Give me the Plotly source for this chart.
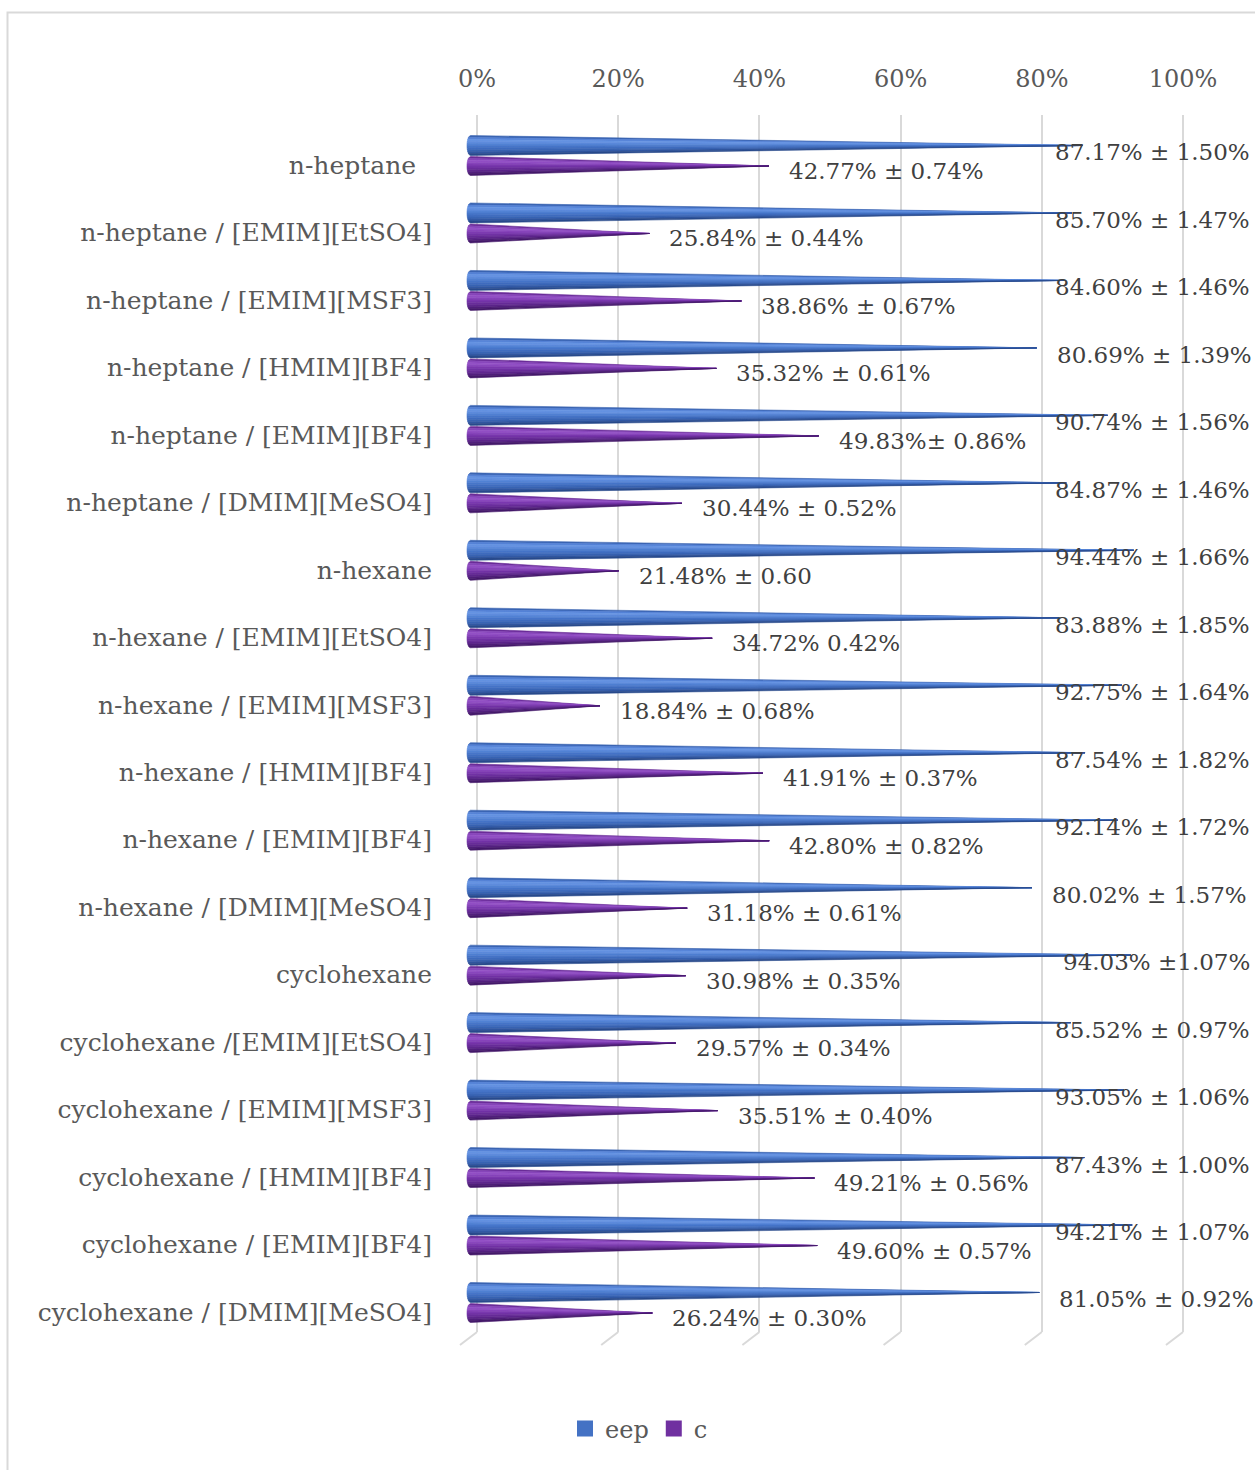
import numpy as np
import plotly.graph_objects as go

# ---- data -------------------------------------------------------------
categories = [
    "n-heptane\u00a0\u00a0",
    "n-heptane / [EMIM][EtSO4]",
    "n-heptane / [EMIM][MSF3]",
    "n-heptane / [HMIM][BF4]",
    "n-heptane / [EMIM][BF4]",
    "n-heptane / [DMIM][MeSO4]",
    "n-hexane",
    "n-hexane / [EMIM][EtSO4]",
    "n-hexane / [EMIM][MSF3]",
    "n-hexane / [HMIM][BF4]",
    "n-hexane / [EMIM][BF4]",
    "n-hexane / [DMIM][MeSO4]",
    "cyclohexane",
    "cyclohexane /[EMIM][EtSO4]",
    "cyclohexane / [EMIM][MSF3]",
    "cyclohexane / [HMIM][BF4]",
    "cyclohexane / [EMIM][BF4]",
    "cyclohexane / [DMIM][MeSO4]",
]

eep_values = [87.17, 85.70, 84.60, 80.69, 90.74, 84.87, 94.44, 83.88, 92.75,
              87.54, 92.14, 80.02, 94.03, 85.52, 93.05, 87.43, 94.21, 81.05]
c_values = [42.77, 25.84, 38.86, 35.32, 49.83, 30.44, 21.48, 34.72, 18.84,
            41.91, 42.80, 31.18, 30.98, 29.57, 35.51, 49.21, 49.60, 26.24]

eep_labels = ["87.17% ± 1.50%", "85.70% ± 1.47%", "84.60% ± 1.46%", "80.69% ± 1.39%",
              "90.74% ± 1.56%", "84.87% ± 1.46%", "94.44% ± 1.66%", "83.88% ± 1.85%",
              "92.75% ± 1.64%", "87.54% ± 1.82%", "92.14% ± 1.72%", "80.02% ± 1.57%",
              "94.03% ±1.07%", "85.52% ± 0.97%", "93.05% ± 1.06%", "87.43% ± 1.00%",
              "94.21% ± 1.07%", "81.05% ± 0.92%"]
c_labels = ["42.77% ± 0.74%", "25.84% ± 0.44%", "38.86% ± 0.67%", "35.32% ± 0.61%",
            "49.83%± 0.86%", "30.44% ± 0.52%", "21.48% ± 0.60", "34.72% 0.42%",
            "18.84% ± 0.68%", "41.91% ± 0.37%", "42.80% ± 0.82%", "31.18% ± 0.61%",
            "30.98% ± 0.35%", "29.57% ± 0.34%", "35.51% ± 0.40%", "49.21% ± 0.56%",
            "49.60% ± 0.57%", "26.24% ± 0.30%"]

tick_values = [0, 20, 40, 60, 80, 100]
tick_labels = ["0%", "20%", "40%", "60%", "80%", "100%"]

series_names = ["eep", "c"]

# ---- geometry (pixels) ------------------------------------------------
W, H = 1255, 1470
PX_PER_PCT = 7.06          # horizontal scale
CONE_ORIGIN = 467          # where the cone bases sit (front plane)
GRID_ORIGIN = 477          # where 0% sits on the back wall
PLOT_LEFT = 440
PLOT_TOP, PLOT_BOTTOM = 115, 1332
ROW_FIRST, ROW_STEP = 165, 67.47
LABEL_GAP = 18
LABEL_W = 194
RIGHT_LIMIT = 1252

FONT = "DejaVu Serif"
FS = 24          # axis ticks, legend
FS_CAT = 25      # category names
FS_VAL = 23      # value labels
GREY_TXT = "#595959"
DARK_TXT = "#404040"
GRID = "#d9d9d9"


def to_val(px, origin):
    return (px - origin) / PX_PER_PCT


x_range = [to_val(PLOT_LEFT, CONE_ORIGIN), to_val(W, CONE_ORIGIN)]
x2_range = [to_val(PLOT_LEFT, GRID_ORIGIN), to_val(W, GRID_ORIGIN)]
y_range = [(PLOT_BOTTOM - ROW_FIRST) / ROW_STEP, (PLOT_TOP - ROW_FIRST) / ROW_STEP]

blue_bands = ['#3A64B2', '#5482D6', '#6593E2', '#5E8CDD', '#5182D4',
              '#4776CA', '#406DC0', '#3965B5', '#3259A5', '#284A8C']
purple_bands = ['#6A2C98', '#8745BA', '#9350C6', '#8946BD', '#7D3BB1',
                '#7333A7', '#692D9B', '#5F278E', '#53207E', '#44196A']


def cone_traces(values, offset_px, radius_px, colors):
    """Shaded horizontal cones: a stack of thin bands converging on the tip."""
    r = radius_px / ROW_STEP
    rx = 3.5 / PX_PER_PCT
    n = len(colors)
    edges = np.linspace(-1, 1, n + 1)
    out = []
    for k in range(n):
        xs, ys = [], []
        for i, v in enumerate(values):
            c = i + offset_px / ROW_STEP
            ts = np.linspace(edges[k], edges[k + 1], 6)
            px = [rx * (1 - np.sqrt(max(0.0, 1 - t * t))) for t in ts]
            py = [c + t * r for t in ts]
            xs += px + [v, px[0], None]
            ys += py + [c, py[0], None]
        out.append(go.Scatter(
            x=xs, y=ys, mode="lines", fill="toself",
            fillcolor=colors[k], line=dict(width=0.6, color=colors[k]),
            hoverinfo="skip", showlegend=False, xaxis="x", yaxis="y"))
    return out


fig = go.Figure()

BLUE_OFF, BLUE_R = -19.5, 10
PURPLE_OFF, PURPLE_R = 1.0, 9.5

for tr in cone_traces(eep_values, BLUE_OFF, BLUE_R, blue_bands):
    fig.add_trace(tr)
for tr in cone_traces(c_values, PURPLE_OFF, PURPLE_R, purple_bands):
    fig.add_trace(tr)

# legend entries
fig.add_trace(go.Scatter(x=[None], y=[None], mode="markers", name=series_names[0],
                         marker=dict(symbol="square", size=16, color="#4472C4")))
fig.add_trace(go.Scatter(x=[None], y=[None], mode="markers", name=series_names[1],
                         marker=dict(symbol="square", size=16, color="#7030A0")))

# value labels
annotations = []
for values, labels, off, ys in ((eep_values, eep_labels, BLUE_OFF, -7),
                                (c_values, c_labels, PURPLE_OFF, -5)):
    for i, (v, lab) in enumerate(zip(values, labels)):
        yc = i + off / ROW_STEP
        left_px = CONE_ORIGIN + v * PX_PER_PCT + LABEL_GAP
        font = dict(family=FONT, size=FS_VAL, color=DARK_TXT)
        if left_px + LABEL_W > RIGHT_LIMIT:
            annotations.append(dict(x=RIGHT_LIMIT / W, xref="paper", xanchor="right",
                                    y=yc, yref="y", yshift=ys, text=lab,
                                    showarrow=False, font=font))
        else:
            annotations.append(dict(x=v, xref="x", xanchor="left", xshift=LABEL_GAP,
                                    y=yc, yref="y", yshift=ys, text=lab,
                                    showarrow=False, font=font))

# floor lines continuing the gridlines
shapes = []
y_bot = 1 - PLOT_BOTTOM / H
y_floor = 1 - (PLOT_BOTTOM + 13) / H
for tv in tick_values:
    shapes.append(dict(type="line", xref="x2", yref="paper",
                       x0=tv, y0=y_bot, x1=tv - 17 / PX_PER_PCT, y1=y_floor,
                       line=dict(color=GRID, width=2), layer="below"))

# chart border
shapes.append(dict(type="rect", xref="paper", yref="paper",
                   x0=7.5 / W, y0=1 - 12.5 / H, x1=1.02, y1=-0.02,
                   line=dict(color=GRID, width=2)))

fig.update_layout(
    width=W, height=H,
    margin=dict(l=0, r=0, t=0, b=0),
    paper_bgcolor="white", plot_bgcolor="white",
    font=dict(family=FONT, size=FS, color=GREY_TXT),
    xaxis=dict(domain=[PLOT_LEFT / W, 1], range=x_range, visible=False, fixedrange=True),
    xaxis2=dict(overlaying="x", side="top", anchor="y", range=x2_range,
                tickvals=tick_values, ticktext=tick_labels, showgrid=True,
                gridcolor=GRID, gridwidth=2, zeroline=False, showline=False,
                ticks="", ticklabelstandoff=22,
                tickfont=dict(family=FONT, size=FS, color=GREY_TXT)),
    yaxis=dict(domain=[1 - PLOT_BOTTOM / H, 1 - PLOT_TOP / H], range=y_range,
               tickvals=list(range(len(categories))), ticktext=categories,
               showgrid=False, zeroline=False, showline=False, ticks="",
               ticklabelstandoff=7,
               tickfont=dict(family=FONT, size=FS_CAT, color=GREY_TXT)),
    legend=dict(orientation="h", x=639 / W, xanchor="center", y=1 - 1429 / H,
                yanchor="middle", font=dict(family=FONT, size=FS, color=GREY_TXT),
                itemsizing="trace", bgcolor="rgba(0,0,0,0)"),
    annotations=annotations,
    shapes=shapes,
)

fig.write_html("out.html")
